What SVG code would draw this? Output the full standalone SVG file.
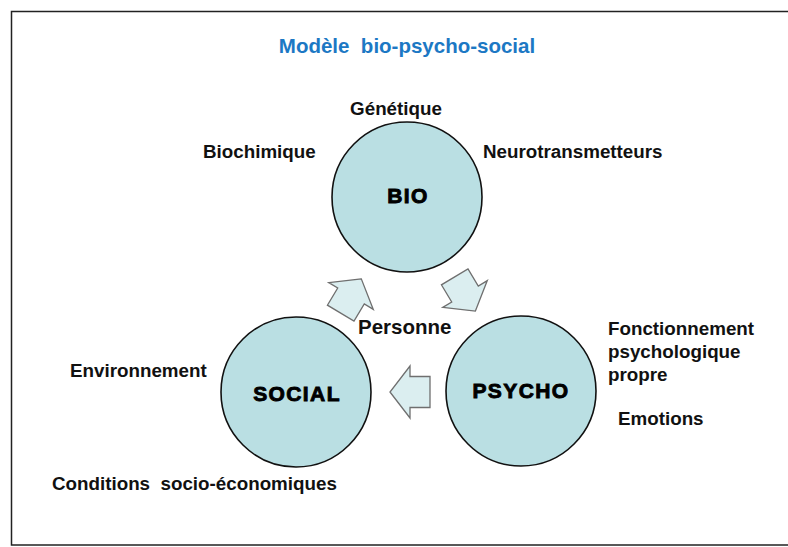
<svg xmlns="http://www.w3.org/2000/svg" width="788" height="547" viewBox="0 0 788 547">
  <defs>
    <style>
      .frame { fill: #ffffff; stroke: #222222; stroke-width: 1.5; }
      .title { font-family: "Liberation Sans", Arial, sans-serif; font-weight: bold; font-size: 20.5px; fill: #1c78c4; }
      .lbl { font-family: "Liberation Sans", Arial, sans-serif; font-weight: bold; font-size: 18.8px; fill: #111111; }
      .core { fill: #badfe3; stroke: #111111; stroke-width: 1.6; }
      .core-txt { font-family: "Liberation Sans", Arial, sans-serif; font-weight: bold; font-size: 21px; fill: #000000; stroke: #000000; stroke-width: 0.9; letter-spacing: 1.4px; text-anchor: middle; }
      .flow { fill: #dbeef0; stroke: #6f6f6f; stroke-width: 1.3; stroke-linejoin: miter; }
    </style>
    <!-- block arrow pointing along +x, head base at the origin -->
    <path id="blockArrow" d="M 20 0 L 0 -26 L 0 -15.5 L -20 -15.5 L -20 15.5 L 0 15.5 L 0 26 Z"/>
  </defs>

  <rect class="frame" x="11.5" y="11.5" width="790" height="533.5"/>

  <text class="title" x="407" y="53" text-anchor="middle" xml:space="preserve">Modèle  bio-psycho-social</text>

  <g id="connectors">
    <use href="#blockArrow" class="flow" transform="translate(351 296) rotate(-59)"/>
    <use href="#blockArrow" class="flow" transform="translate(465 294) rotate(59)"/>
    <use href="#blockArrow" class="flow" transform="translate(410 392) rotate(180)"/>
  </g>

  <g id="bio">
    <circle class="core" cx="407" cy="197" r="75"/>
    <text class="core-txt" x="408" y="203">BIO</text>
  </g>

  <g id="psycho">
    <circle class="core" cx="521" cy="391" r="75"/>
    <text class="core-txt" x="521" y="398">PSYCHO</text>
  </g>

  <g id="social">
    <circle class="core" cx="296" cy="392" r="75"/>
    <text class="core-txt" x="297" y="401">SOCIAL</text>
  </g>

  <g id="labels">
    <text class="lbl" x="396" y="115" text-anchor="middle">Génétique</text>
    <text class="lbl" x="203" y="158">Biochimique</text>
    <text class="lbl" x="483" y="158">Neurotransmetteurs</text>
    <text class="lbl" x="358" y="334" style="font-size:20.5px">Personne</text>
    <text class="lbl" x="608" y="335">Fonctionnement</text>
    <text class="lbl" x="608" y="358">psychologique</text>
    <text class="lbl" x="608" y="381">propre</text>
    <text class="lbl" x="618" y="425">Emotions</text>
    <text class="lbl" x="70" y="377">Environnement</text>
    <text class="lbl" x="52" y="490" xml:space="preserve">Conditions  socio-économiques</text>
  </g>
</svg>
